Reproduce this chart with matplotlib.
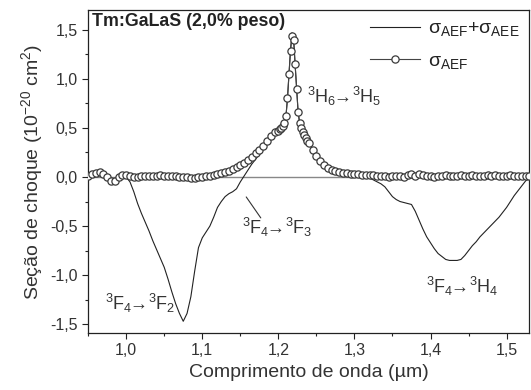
import numpy as np
import matplotlib
matplotlib.use("Agg")
import matplotlib.pyplot as plt
from matplotlib.ticker import MultipleLocator, FuncFormatter

plt.rcParams['font.family'] = ['Liberation Sans', 'DejaVu Sans']
plt.rcParams['mathtext.fontset'] = 'custom'
plt.rcParams['mathtext.rm'] = 'Liberation Sans'
plt.rcParams['mathtext.it'] = 'Liberation Sans:italic'
plt.rcParams['mathtext.bf'] = 'Liberation Sans:bold'

# wavelength grid (um): coarse, denser around the 1.22 um peak, coarse again
wl = np.concatenate([np.arange(0.950, 1.1975, 0.005),
                     np.arange(1.200, 1.2405, 0.002),
                     np.arange(1.245, 1.5325, 0.005)])

# sigma_AEF (circles)
aef = [0.01, 0.03, 0.04, 0.05, 0.03, 0.00, -0.04, -0.04, 0.00, 0.02,
       0.02, 0.01, 0.00, 0.00, 0.01, 0.01, 0.01, 0.01, 0.01, 0.02,
       0.01, 0.01, 0.01, 0.01, 0.00, 0.00, 0.00, -0.01, -0.01, 0.00,
       0.00, 0.01, 0.01, 0.02, 0.03, 0.04, 0.05, 0.06, 0.08, 0.10,
       0.12, 0.14, 0.17, 0.20, 0.24, 0.28, 0.32, 0.37, 0.42, 0.46,
       # peak
       0.47, 0.49, 0.50, 0.52, 0.55, 0.62, 0.80, 1.05, 1.28, 1.44,
       1.40, 1.15, 0.90, 0.66, 0.55, 0.50, 0.46, 0.43, 0.40, 0.37, 0.35,
       # tail
       0.28, 0.21, 0.16, 0.12, 0.09, 0.07, 0.06, 0.05, 0.04, 0.04,
       0.03, 0.03, 0.03, 0.02, 0.02, 0.02, 0.02, 0.01, 0.01, 0.01,
       0.00, 0.01, 0.01, 0.01, 0.00, 0.02, 0.03, 0.01, 0.03, 0.02,
       0.01, 0.01, 0.00, 0.01, 0.01, 0.02, 0.01, 0.01, 0.01, 0.02,
       0.01, 0.01, 0.02, 0.01, 0.01, 0.01, 0.02, 0.01, 0.02, 0.01,
       0.01, 0.01, 0.02, 0.01, 0.01, 0.01, 0.01, 0.01]

# sigma_AEF + sigma_AEE (solid line)
total = [0.01, 0.03, 0.04, 0.05, 0.03, 0.00, -0.04, -0.04, 0.00, 0.01,
         0.00, -0.05, -0.15, -0.27, -0.37, -0.46, -0.55, -0.65, -0.74, -0.83,
         -0.92, -1.04, -1.17, -1.29, -1.39, -1.47, -1.39, -1.22, -0.96, -0.72,
         -0.62, -0.56, -0.50, -0.41, -0.31, -0.25, -0.20, -0.17, -0.15, -0.12,
         -0.05, 0.01, 0.07, 0.13, 0.18, 0.23, 0.29, 0.35, 0.41, 0.45,
         # peak
         0.47, 0.49, 0.50, 0.52, 0.55, 0.62, 0.80, 1.05, 1.30, 1.47,
         1.43, 1.15, 0.90, 0.66, 0.55, 0.50, 0.46, 0.43, 0.40, 0.37, 0.35,
         # tail
         0.28, 0.21, 0.16, 0.12, 0.09, 0.07, 0.05, 0.04, 0.03, 0.03,
         0.02, 0.02, 0.02, 0.01, 0.00, -0.01, -0.03, -0.05, -0.07, -0.10,
         -0.15, -0.20, -0.23, -0.25, -0.26, -0.27, -0.28, -0.35, -0.44, -0.53,
         -0.61, -0.67, -0.73, -0.78, -0.81, -0.84, -0.85, -0.85, -0.85, -0.84,
         -0.80, -0.75, -0.70, -0.66, -0.61, -0.57, -0.53, -0.49, -0.45, -0.41,
         -0.36, -0.31, -0.25, -0.19, -0.14, -0.09, -0.04, -0.01]

fig = plt.figure(figsize=(5.31, 3.90), dpi=100)
ax = fig.add_axes([0.166, 0.146, 0.831, 0.828])

ax.axhline(0, color='#888888', lw=1.0, zorder=1)
ax.plot(wl, total, color='#222222', lw=0.8, zorder=2,
        label=r'σ$_{\mathrm{AEF}}$+σ$_{\mathrm{AEE}}$')
ax.plot(wl, aef, color='#444444', lw=0.8, marker='o', ms=5.2, mfc='white',
        mec='#3a3a3a', mew=0.9, zorder=3, label=r'σ$_{\mathrm{AEF}}$')

ax.set_xlim(0.95, 1.53)
ax.set_ylim(-1.59, 1.70)
ax.xaxis.set_major_locator(MultipleLocator(0.1))
ax.xaxis.set_minor_locator(MultipleLocator(0.05))
ax.yaxis.set_major_locator(MultipleLocator(0.5))
ax.yaxis.set_minor_locator(MultipleLocator(0.25))
fmt = FuncFormatter(lambda v, p: f"{v:.1f}".replace('.', ','))
ax.xaxis.set_major_formatter(fmt)
ax.yaxis.set_major_formatter(fmt)
ax.tick_params(which='major', direction='out', length=4, width=0.8,
               labelsize=11.5, colors='#222222', labelcolor='#333333')
ax.tick_params(which='minor', direction='out', length=2.5, width=0.8,
               colors='#222222')
for s in ax.spines.values():
    s.set_color('#222222')
    s.set_linewidth(0.9)

ax.set_xlabel('Comprimento de onda (µm)', fontsize=14, color='#333333',
              labelpad=4)
ax.set_ylabel(r'Seção de choque (10$^{-20}$ cm$^{2}$)', fontsize=14,
              color='#333333', labelpad=4)

ax.text(0.955, 1.585, 'Tm:GaLaS (2,0% peso)', fontsize=12.8,
        fontweight='bold', va='center', ha='left', color='#222222')

tfs = 13
arrow = r'$\!\!\rightarrow\!$'
ax.text(1.238, 0.82, r'$^{3}$H$_{6}$' + arrow + r'$^{3}$H$_{5}$',
        fontsize=tfs, va='center', color='#333333')
ax.text(0.9725, -1.29, r'$^{3}$F$_{4}$' + arrow + r'$^{3}$F$_{2}$',
        fontsize=tfs, va='center', color='#333333')
ax.text(1.152, -0.51, r'$^{3}$F$_{4}$' + arrow + r'$^{3}$F$_{3}$',
        fontsize=tfs, va='center', color='#333333')
ax.text(1.394, -1.12, r'$^{3}$F$_{4}$' + arrow + r'$^{3}$H$_{4}$',
        fontsize=tfs, va='center', color='#333333')
ax.annotate('', xy=(1.1557, -0.18), xytext=(1.179, -0.44),
            arrowprops=dict(arrowstyle='-', color='#333333', lw=0.8))

leg = ax.legend(loc='upper right', frameon=False, fontsize=14,
                handlelength=2.6, handletextpad=0.4, labelspacing=0.7,
                borderaxespad=0.0, borderpad=0.5)
for t in leg.get_texts():
    t.set_color('#222222')

fig.savefig('out.png', dpi=100)
